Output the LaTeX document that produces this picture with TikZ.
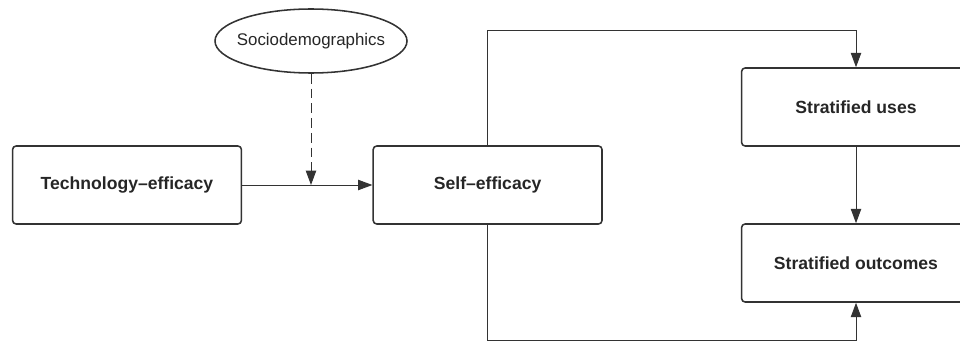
\documentclass[tikz,border=0pt]{standalone}
\usepackage{fontspec}
\setmainfont{Liberation Sans}
\usetikzlibrary{arrows.meta,shapes.geometric}

\tikzset{
  box/.style={draw=linegray, line width=1.1pt, rounded corners=2.5pt,
    minimum width=5.72cm, minimum height=1.95cm,
    font=\fontsize{12.5}{15}\selectfont\bfseries, text=textgray},
  oval/.style={draw=linegray, line width=1.1pt, ellipse, inner xsep=-0.2cm,
    minimum width=4.8cm, minimum height=1.6cm,
    font=\fontsize{12}{14}\selectfont, text=textgray},
  link/.style={draw=linegray, line width=0.7pt,
    -{Triangle[length=3.6mm,width=2.6mm]}}
}

\begin{document}
\begin{tikzpicture}

\definecolor{linegray}{rgb}{0.2,0.2,0.2}
\definecolor{textgray}{rgb}{0.15,0.15,0.15}

\useasboundingbox (0,0) rectangle (24,-8.575);

\node[box] (tech) at (3.175,-4.625) {Technology--efficacy};
\node[box] (self) at (12.19,-4.625) {Self--efficacy};
\node[box] (uses) at (21.4,-2.675) {Stratified uses};
\node[box] (outc) at (21.4,-6.575) {Stratified outcomes};
\node[oval] (socio) at (7.775,-1.025) {Sociodemographics};

\coordinate (join) at (socio.south |- tech.east);
\coordinate (top) at (12.19,-0.75);
\coordinate (bottom) at (12.19,-8.5);

\draw[link] (tech.east) -- (self.west);
\draw[link, dash pattern=on 7pt off 3.5pt] (socio.south) -- (join);
\draw[link] (self.north) -- (top) -| (uses.north);
\draw[link] (uses.south) -- (outc.north);
\draw[link] (self.south) -- (bottom) -| (outc.south);

\end{tikzpicture}
\end{document}
